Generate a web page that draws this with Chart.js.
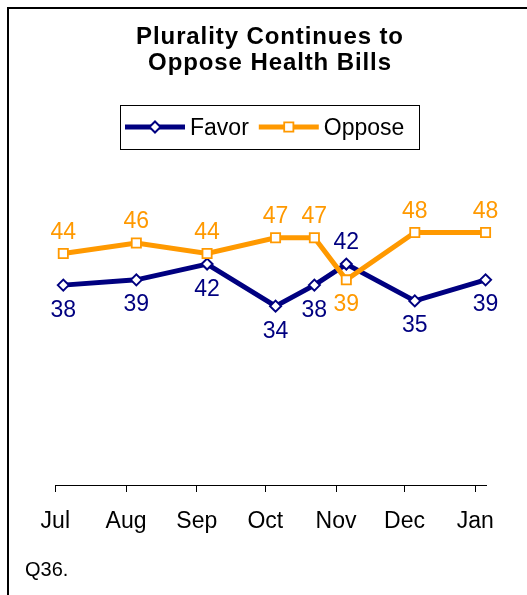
<!DOCTYPE html>
<html>
<head>
<meta charset="utf-8">
<title>Plurality Continues to Oppose Health Bills</title>
<script src="https://cdn.jsdelivr.net/npm/chart.js@4.4.1/dist/chart.umd.min.js"></script>
<style>
  html, body { margin: 0; padding: 0; background: #fff; overflow: hidden; }
  #wrap { position: relative; width: 527px; height: 595px; }
  #frame { position: absolute; left: 7px; top: 7px; width: 600px; height: 700px; border: 2px solid #000; }
  #chart { position: absolute; left: 0; top: 0; }
</style>
</head>
<body>
<div id="wrap">
  <div id="frame"></div>
  <canvas id="chart" width="527" height="595"></canvas>
</div>
<script>
// poll dates and results
const axisStart = '2009-07-01';
const axisEnd = '2010-01-06';
const monthStarts = ['2009-07-01', '2009-08-01', '2009-09-01', '2009-10-01', '2009-11-01', '2009-12-01', '2010-01-01'];
const monthLabels = ['Jul', 'Aug', 'Sep', 'Oct', 'Nov', 'Dec', 'Jan'];
const pollDates = ['2009-07-04', '2009-08-05', '2009-09-05', '2009-10-05', '2009-10-22', '2009-11-05', '2009-12-05', '2010-01-05'];
const favorValues = [38, 39, 42, 34, 38, 42, 35, 39];
const opposeValues = [44, 46, 44, 47, 47, 39, 48, 48];

const titleLines = ['Plurality Continues to', 'Oppose Health Bills'];
const footnote = 'Q36.';

const NAVY = '#000080';
const ORANGE = '#FF9900';
const FONT = '"Liberation Sans", Arial, sans-serif';

Chart.defaults.font.family = FONT;

// days since the axis start
function dayOf(date) {
    return (Date.parse(date) - Date.parse(axisStart)) / 86400000;
}

// each poll sits in the middle of its day
function toPoints(values) {
    return values.map((v, i) => ({ x: dayOf(pollDates[i]) + 0.5, y: v }));
}

function drawMarker(ctx, ds, x, y) {
    ctx.fillStyle = ds.pointBackgroundColor;
    ctx.strokeStyle = ds.pointBorderColor;
    ctx.lineWidth = ds.pointBorderWidth;
    Chart.helpers.drawPoint(ctx, {
        pointStyle: ds.pointStyle,
        radius: ds.pointRadius,
        borderWidth: ds.pointBorderWidth,
        rotation: 0
    }, x, y);
}

const titleText = {
    id: 'titleText',
    afterDraw(chart) {
        const ctx = chart.ctx;
        ctx.save();
        ctx.fillStyle = '#000';
        ctx.font = 'bold 24px ' + FONT;
        ctx.textAlign = 'center';
        ctx.textBaseline = 'alphabetic';
        if ('letterSpacing' in ctx) ctx.letterSpacing = '0.9px';
        ctx.fillText(titleLines[0], 270, 44);
        ctx.fillText(titleLines[1], 270, 70);
        ctx.restore();
    }
};

// boxed legend: line segment with marker, then label
const boxedLegend = {
    id: 'boxedLegend',
    afterDraw(chart) {
        const ctx = chart.ctx;
        const y = 127;
        ctx.save();
        ctx.strokeStyle = '#000';
        ctx.lineWidth = 1;
        ctx.strokeRect(120.5, 105.5, 299, 44);
        ctx.font = '23px ' + FONT;
        ctx.textBaseline = 'alphabetic';
        ctx.textAlign = 'left';
        let x = 125;
        chart.data.datasets.forEach(ds => {
            ctx.strokeStyle = ds.borderColor;
            ctx.lineWidth = ds.borderWidth;
            ctx.beginPath();
            ctx.moveTo(x, y);
            ctx.lineTo(x + 60, y);
            ctx.stroke();
            drawMarker(ctx, ds, x + 30, y);
            ctx.fillStyle = '#000';
            ctx.fillText(ds.label, x + 65, y + 7.5);
            x += 65 + ctx.measureText(ds.label).width + 10;
        });
        ctx.restore();
    }
};

// value labels: the higher series is labelled above its point, the lower one below
const valueLabels = {
    id: 'valueLabels',
    afterDatasetsDraw(chart) {
        const ctx = chart.ctx;
        const sets = chart.data.datasets;
        ctx.save();
        ctx.font = '23px ' + FONT;
        ctx.textAlign = 'center';
        ctx.textBaseline = 'alphabetic';
        sets.forEach((ds, di) => {
            const meta = chart.getDatasetMeta(di);
            meta.data.forEach((pt, i) => {
                const v = ds.data[i].y;
                const above = sets.every(o => o.data[i].y <= v);
                ctx.fillStyle = ds.borderColor;
                ctx.fillText(String(v), pt.x, above ? pt.y - 15 : pt.y + 31.5);
            });
        });
        ctx.restore();
    }
};

const footnoteText = {
    id: 'footnoteText',
    afterDraw(chart) {
        const ctx = chart.ctx;
        ctx.save();
        ctx.fillStyle = '#000';
        ctx.font = '20px ' + FONT;
        ctx.textAlign = 'left';
        ctx.textBaseline = 'alphabetic';
        ctx.fillText(footnote, 25, 576);
        ctx.restore();
    }
};

new Chart(document.getElementById('chart'), {
    type: 'line',
    data: {
        datasets: [{
            label: 'Favor',
            data: toPoints(favorValues),
            borderColor: NAVY,
            borderWidth: 5,
            tension: 0,
            clip: false,
            pointStyle: 'rectRot',
            pointRadius: 5.5,
            pointBorderWidth: 2,
            pointBackgroundColor: '#fff',
            pointBorderColor: NAVY,
            order: 1
        }, {
            label: 'Oppose',
            data: toPoints(opposeValues),
            borderColor: ORANGE,
            borderWidth: 5,
            tension: 0,
            clip: false,
            pointStyle: 'rect',
            pointRadius: 6.5,
            pointBorderWidth: 1.8,
            pointBackgroundColor: '#fff',
            pointBorderColor: ORANGE,
            order: 0
        }]
    },
    options: {
        responsive: false,
        animation: false,
        events: [],
        layout: { padding: { left: 55.3, right: 40.3, top: 169.4, bottom: 0 } },
        plugins: {
            legend: { display: false },
            title: { display: false },
            tooltip: { enabled: false }
        },
        scales: {
            x: {
                type: 'linear',
                min: 0,
                max: dayOf(axisEnd),
                afterBuildTicks: scale => {
                    scale.ticks = monthStarts.map(d => ({ value: dayOf(d) }));
                },
                afterFit: scale => { scale.height = 110; },
                grid: { display: true, drawOnChartArea: false, drawTicks: true, tickLength: 7, color: '#000', lineWidth: 1 },
                border: { display: true, color: '#000', width: 1 },
                ticks: {
                    color: '#000',
                    font: { size: 23 },
                    padding: 16,
                    maxRotation: 0,
                    autoSkip: false,
                    callback: (value, index) => monthLabels[index]
                }
            },
            y: { display: false, min: 0, max: 60 }
        }
    },
    plugins: [titleText, boxedLegend, valueLabels, footnoteText]
});
</script>
</body>
</html>
